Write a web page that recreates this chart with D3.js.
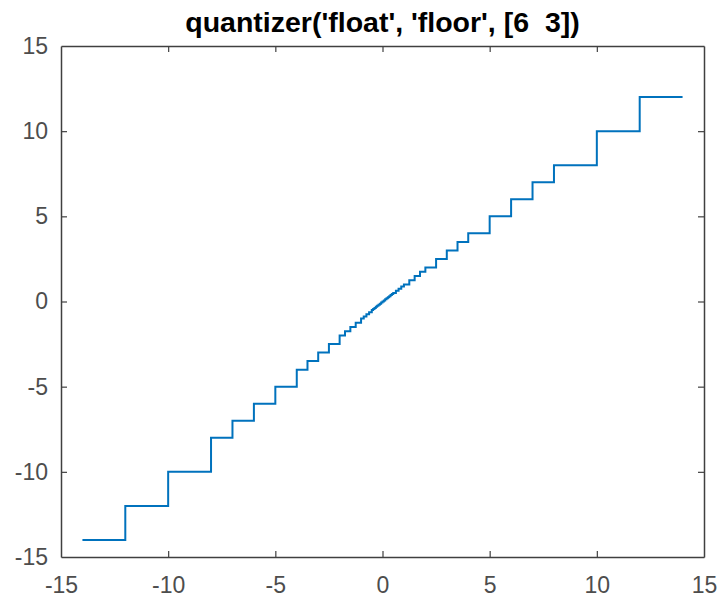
<!DOCTYPE html>
<html>
<head>
<meta charset="utf-8">
<script src="https://cdn.jsdelivr.net/npm/d3@7"></script>
<style>
  html, body { margin: 0; padding: 0; background: #fff; }
  svg { display: block; }
</style>
</head>
<body>
<div id="chart"></div>
<script>
// quantizer('float', 'floor', [6 3]) : input x -> quantized y (step breakpoints)
const stepX = [-14, -12, -10, -8, -7, -6, -5, -4, -3.5, -3, -2.5, -2, -1.75, -1.5, -1.25, -1,
  -0.875, -0.75, -0.625, -0.5, -0.4375, -0.375, -0.3125, -0.25, -0.1875, -0.125, -0.0625, 0,
  0.0625, 0.125, 0.1875, 0.25, 0.3125, 0.375, 0.4375, 0.5, 0.625, 0.75, 0.875, 1,
  1.25, 1.5, 1.75, 2, 2.5, 3, 3.5, 4, 5, 6, 7, 8, 10, 12, 14];
const stepY = [-14, -12, -10, -8, -7, -6, -5, -4, -3.5, -3, -2.5, -2, -1.75, -1.5, -1.25, -1,
  -0.875, -0.75, -0.625, -0.5, -0.4375, -0.375, -0.3125, -0.25, -0.1875, -0.125, -0.0625, 0,
  0.0625, 0.125, 0.1875, 0.25, 0.3125, 0.375, 0.4375, 0.5, 0.625, 0.75, 0.875, 1,
  1.25, 1.5, 1.75, 2, 2.5, 3, 3.5, 4, 5, 6, 7, 8, 10, 12, 12];
const xTicks = [-15, -10, -5, 0, 5, 10, 15];
const yTicks = [-15, -10, -5, 0, 5, 10, 15];
const titleText = "quantizer('float', 'floor', [6  3])";

const width = 722, height = 598;
const margin = { top: 46, right: 18, bottom: 41, left: 61 };
const innerW = width - margin.left - margin.right;
const innerH = height - margin.top - margin.bottom;

const svg = d3.select('#chart').append('svg')
  .attr('width', width)
  .attr('height', height)
  .style('font-family', '"Liberation Sans", Arial, Helvetica, sans-serif');

svg.append('rect').attr('width', width).attr('height', height).attr('fill', '#fff');

const g = svg.append('g').attr('transform', `translate(${margin.left},${margin.top})`);

const x = d3.scaleLinear().domain([-15, 15]).range([0, innerW]);
const y = d3.scaleLinear().domain([-15, 15]).range([innerH, 0]);

const axisColor = '#404040';
const tickLen = 6;
const fmt = d => String(d); // plain hyphen minus, like the reference

// Line
const points = stepX.map((d, i) => [d, stepY[i]]);
const line = d3.line()
  .x(d => x(d[0]))
  .y(d => y(d[1]))
  .curve(d3.curveStepAfter);

g.append('path')
  .datum(points)
  .attr('d', line)
  .attr('fill', 'none')
  .attr('stroke', '#0072BD')
  .attr('stroke-width', 2);

// Axes (box with inward ticks on all sides)
function styleAxis(sel, showLabels) {
  sel.select('.domain').attr('stroke', axisColor).attr('stroke-width', 1.5);
  sel.selectAll('.tick line').attr('stroke', axisColor).attr('stroke-width', 1.2);
  sel.selectAll('.tick text')
    .attr('fill', '#4d4d4d')
    .style('font-size', '23px')
    .style('display', showLabels ? null : 'none');
}

const axBottom = g.append('g')
  .attr('transform', `translate(0,${innerH})`)
  .call(d3.axisBottom(x).tickValues(xTicks).tickFormat(fmt).tickSizeInner(-tickLen).tickSizeOuter(0).tickPadding(20));
styleAxis(axBottom, true);

const axTop = g.append('g')
  .call(d3.axisTop(x).tickValues(xTicks).tickSizeInner(-tickLen).tickSizeOuter(0));
styleAxis(axTop, false);

const axLeft = g.append('g')
  .call(d3.axisLeft(y).tickValues(yTicks).tickFormat(fmt).tickSizeInner(-tickLen).tickSizeOuter(0).tickPadding(13));
styleAxis(axLeft, true);

const axRight = g.append('g')
  .attr('transform', `translate(${innerW},0)`)
  .call(d3.axisRight(y).tickValues(yTicks).tickSizeInner(-tickLen).tickSizeOuter(0));
styleAxis(axRight, false);

// drop the tick marks that sit on the box corners
[axBottom, axTop, axLeft, axRight].forEach(a =>
  a.selectAll('.tick line').filter(d => d === -15 || d === 15).remove());

// Title
svg.append('text')
  .attr('x', margin.left + innerW / 2)
  .attr('y', 32)
  .attr('text-anchor', 'middle')
  .attr('fill', '#000')
  .style('font-size', '28.5px')
  .style('font-weight', 'bold')
  .style('white-space', 'pre')
  .text(titleText);
</script>
</body>
</html>
